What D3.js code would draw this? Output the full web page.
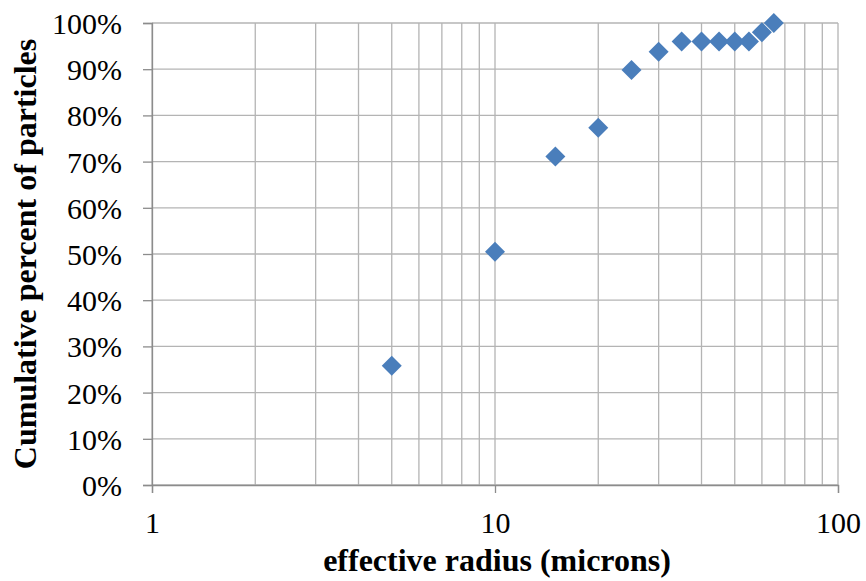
<!DOCTYPE html>
<html>
<head>
<meta charset="utf-8">
<script src="https://cdn.jsdelivr.net/npm/d3@7"></script>
<style>
  html, body { margin: 0; padding: 0; background: #fff; }
  text { font-family: "Liberation Serif", "Times New Roman", serif; fill: #000; }
</style>
</head>
<body>
<svg id="chart" width="866" height="581"></svg>
<script>
// Effective radius (microns) and cumulative share of particles
const radius = [5, 10, 15, 20, 25, 30, 35, 40, 45, 50, 55, 60, 65];
const cumulative = [0.258, 0.505, 0.711, 0.773, 0.898, 0.938, 0.96, 0.96, 0.96, 0.96, 0.96, 0.98, 1.0];
const xTicks = [1, 10, 100];
const yTicks = [0, 0.1, 0.2, 0.3, 0.4, 0.5, 0.6, 0.7, 0.8, 0.9, 1.0];

const svg = d3.select("#chart");
const m = { left: 152, right: 838, top: 23, bottom: 485 };

const x = d3.scaleLog().domain([1, 100]).range([m.left, m.right]);
const y = d3.scaleLinear().domain([0, 1]).range([m.bottom, m.top]);

const gridColor = "#b4b4b4";
const axisColor = "#8c8c8c";
const serif = "'Liberation Serif', 'Times New Roman', serif";

// Vertical gridlines at every 1..9 × decade
const minor = [];
for (let d = 1; d < 100; d *= 10) for (let k = 1; k <= 9; k++) minor.push(d * k);
minor.push(100);
svg.append("g").selectAll("line").data(minor).join("line")
  .attr("x1", d => x(d)).attr("x2", d => x(d))
  .attr("y1", m.top).attr("y2", m.bottom)
  .attr("stroke", gridColor).attr("stroke-width", 1.3);

// Horizontal gridlines
svg.append("g").selectAll("line").data(yTicks).join("line")
  .attr("x1", m.left).attr("x2", m.right)
  .attr("y1", d => y(d)).attr("y2", d => y(d))
  .attr("stroke", gridColor).attr("stroke-width", 1.3);

// Axes
const xAxis = svg.append("g").attr("transform", `translate(0,${m.bottom})`)
  .call(d3.axisBottom(x).tickValues(xTicks).tickFormat(d3.format("d")).tickSize(8).tickPadding(19));
const yAxis = svg.append("g").attr("transform", `translate(${m.left},0)`)
  .call(d3.axisLeft(y).tickValues(yTicks).tickFormat(d3.format(".0%")).tickSize(9).tickPadding(21));

[xAxis, yAxis].forEach(g => {
  g.attr("font-family", serif).attr("font-size", 30);
  g.select(".domain").attr("stroke", axisColor).attr("stroke-width", 1.3);
  g.selectAll(".tick line").attr("stroke", axisColor).attr("stroke-width", 1.3);
  g.selectAll(".tick text").attr("fill", "#000");
});
yAxis.selectAll(".tick text").attr("dy", "0.35em");

// Data markers (diamonds)
svg.append("g").selectAll("path").data(radius.map((r, i) => [r, cumulative[i]])).join("path")
  .attr("transform", d => `translate(${x(d[0])},${y(d[1])}) rotate(45)`)
  .attr("d", d3.symbol().type(d3.symbolSquare).size(200))
  .attr("fill", "#4a7ebb");

// Axis titles
svg.append("text")
  .attr("x", (m.left + m.right) / 2 + 2).attr("y", 571)
  .attr("text-anchor", "middle")
  .style("font-family", serif)
  .style("font-size", "32px").style("font-weight", "bold")
  .text("effective radius (microns)");

svg.append("text")
  .attr("transform", `translate(36,${(m.top + m.bottom) / 2}) rotate(-90)`)
  .attr("text-anchor", "middle")
  .style("font-family", serif)
  .style("font-size", "32px").style("font-weight", "bold")
  .text("Cumulative percent of particles");
</script>
</body>
</html>
